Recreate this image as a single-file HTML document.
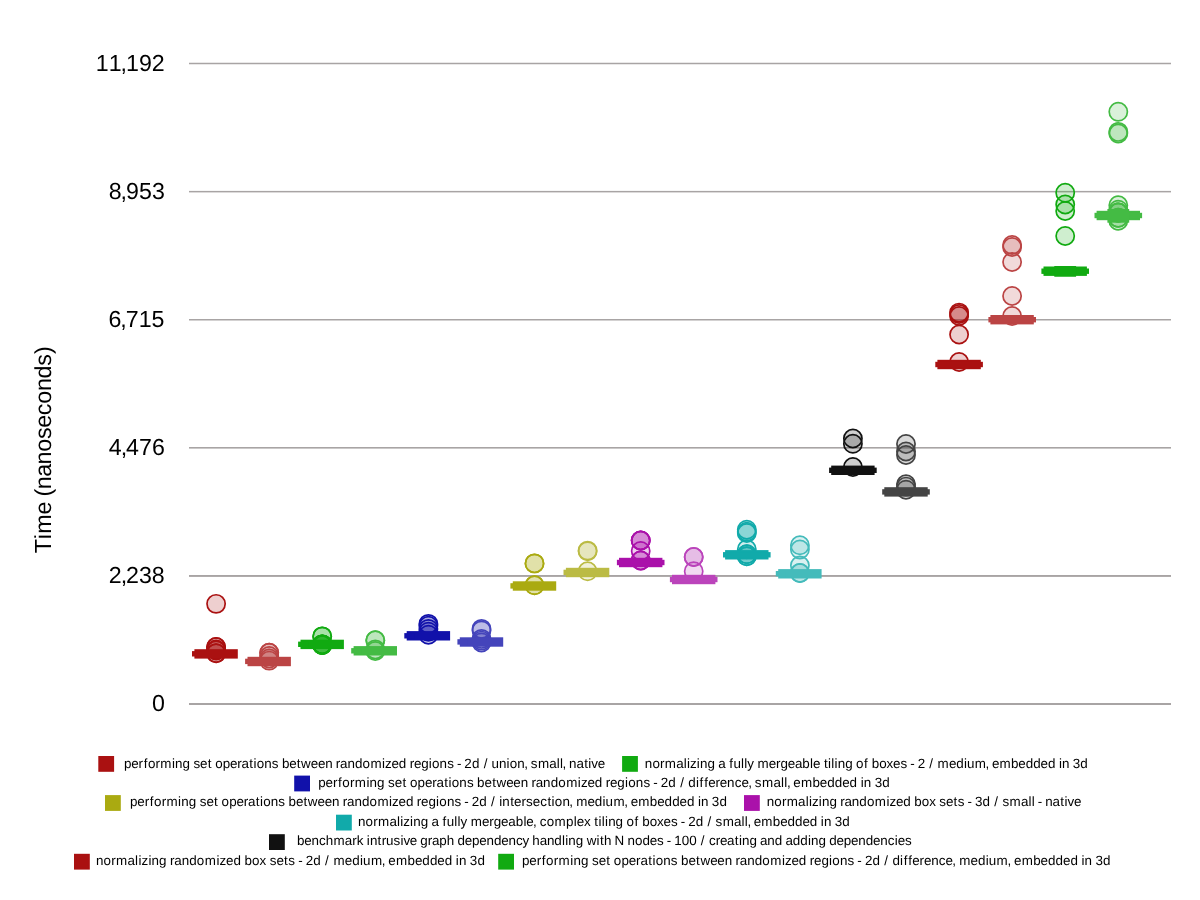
<!DOCTYPE html>
<html><head><meta charset="utf-8"><style>
html,body{margin:0;padding:0;background:#fff;width:1200px;height:900px;overflow:hidden}
svg{display:block}
text{font-family:"Liberation Sans",sans-serif;fill:#000;will-change:transform;text-rendering:geometricPrecision}
</style></head><body>
<svg width="1200" height="900" viewBox="0 0 1200 900">
<rect width="1200" height="900" fill="#fff"/>

<rect x="189" y="62.75" width="982" height="1.50" fill="#a8a4a4"/>
<rect x="189" y="190.9" width="982" height="1.50" fill="#a8a4a4"/>
<rect x="189" y="319.0" width="982" height="1.50" fill="#a8a4a4"/>
<rect x="189" y="447.0" width="982" height="1.60" fill="#a8a4a4"/>
<rect x="189" y="575.0" width="982" height="1.90" fill="#a8a4a4"/>
<rect x="189" y="703.0" width="982" height="2.00" fill="#a8a4a4"/>
<text x="95.87 108.72 120.62 126.07 138.93 151.78" y="71" font-size="23.2">11,192</text>
<text x="108.64 120.58 126.07 138.97 151.89" y="199" font-size="23.2">8,953</text>
<text x="108.41 120.34 125.82 138.71 151.61" y="327" font-size="23.2">6,715</text>
<text x="108.71 120.64 126.11 139.00 151.90" y="455" font-size="23.2">4,476</text>
<text x="108.81 120.68 126.09 138.89 151.70" y="583" font-size="23.2">2,238</text>
<text x="151.96" y="711" font-size="23.2">0</text>
<g transform="translate(0,900) rotate(-90)"><text x="346.86 360.83 366.32 385.38 397.39 403.39 410.86 423.19 435.53 448.17 461.05 472.17 484.68 496.34 508.97 521.53 534.35 546.01" y="51" font-size="23.3">Time (nanoseconds)</text></g>
<g><circle cx="216.1" cy="603.85" r="9.1" fill="#aa1111" fill-opacity="0.2" stroke="#aa1111" stroke-width="1.7"/><circle cx="216.1" cy="647" r="9.1" fill="#aa1111" fill-opacity="0.2" stroke="#aa1111" stroke-width="1.7"/><circle cx="216.1" cy="647" r="9.1" fill="#aa1111" fill-opacity="0.2" stroke="#aa1111" stroke-width="1.7"/><circle cx="216.1" cy="649.5" r="9.1" fill="#aa1111" fill-opacity="0.2" stroke="#aa1111" stroke-width="1.7"/><circle cx="216.1" cy="650.5" r="9.1" fill="#aa1111" fill-opacity="0.2" stroke="#aa1111" stroke-width="1.7"/><circle cx="216.1" cy="653.2" r="9.1" fill="#aa1111" fill-opacity="0.2" stroke="#aa1111" stroke-width="1.7"/><circle cx="216.1" cy="653.2" r="9.1" fill="#aa1111" fill-opacity="0.2" stroke="#aa1111" stroke-width="1.7"/><rect x="194.4" y="649.2" width="43.4" height="9.4" fill="#aa1111"/><rect x="192.0" y="651.1" width="10" height="5.4" fill="#aa1111"/></g>
<g><circle cx="269.2" cy="652.75" r="9.1" fill="#bb4444" fill-opacity="0.2" stroke="#bb4444" stroke-width="1.7"/><circle cx="269.2" cy="652.75" r="9.1" fill="#bb4444" fill-opacity="0.2" stroke="#bb4444" stroke-width="1.7"/><circle cx="269.2" cy="656" r="9.1" fill="#bb4444" fill-opacity="0.2" stroke="#bb4444" stroke-width="1.7"/><circle cx="269.2" cy="658.5" r="9.1" fill="#bb4444" fill-opacity="0.2" stroke="#bb4444" stroke-width="1.7"/><circle cx="269.2" cy="660.6" r="9.1" fill="#bb4444" fill-opacity="0.2" stroke="#bb4444" stroke-width="1.7"/><rect x="247.5" y="656.8" width="43.4" height="9.4" fill="#bb4444"/><rect x="245.1" y="658.7" width="10" height="5.4" fill="#bb4444"/></g>
<g><circle cx="322.2" cy="636.4" r="9.1" fill="#11aa11" fill-opacity="0.2" stroke="#11aa11" stroke-width="1.7"/><circle cx="322.2" cy="636.4" r="9.1" fill="#11aa11" fill-opacity="0.2" stroke="#11aa11" stroke-width="1.7"/><circle cx="322.2" cy="644.4" r="9.1" fill="#11aa11" fill-opacity="0.2" stroke="#11aa11" stroke-width="1.7"/><circle cx="322.2" cy="644.4" r="9.1" fill="#11aa11" fill-opacity="0.2" stroke="#11aa11" stroke-width="1.7"/><circle cx="322.2" cy="644.4" r="9.1" fill="#11aa11" fill-opacity="0.2" stroke="#11aa11" stroke-width="1.7"/><circle cx="322.2" cy="644.4" r="9.1" fill="#11aa11" fill-opacity="0.2" stroke="#11aa11" stroke-width="1.7"/><circle cx="322.2" cy="645" r="9.1" fill="#11aa11" fill-opacity="0.2" stroke="#11aa11" stroke-width="1.7"/><circle cx="322.2" cy="645" r="9.1" fill="#11aa11" fill-opacity="0.2" stroke="#11aa11" stroke-width="1.7"/><circle cx="322.2" cy="645" r="9.1" fill="#11aa11" fill-opacity="0.2" stroke="#11aa11" stroke-width="1.7"/><rect x="300.5" y="639.7" width="43.4" height="9.4" fill="#11aa11"/><rect x="298.1" y="641.6" width="10" height="5.4" fill="#11aa11"/></g>
<g><circle cx="375.3" cy="640.3" r="9.1" fill="#44bb44" fill-opacity="0.2" stroke="#44bb44" stroke-width="1.7"/><circle cx="375.3" cy="640.3" r="9.1" fill="#44bb44" fill-opacity="0.2" stroke="#44bb44" stroke-width="1.7"/><circle cx="375.3" cy="649.4" r="9.1" fill="#44bb44" fill-opacity="0.2" stroke="#44bb44" stroke-width="1.7"/><circle cx="375.3" cy="651" r="9.1" fill="#44bb44" fill-opacity="0.2" stroke="#44bb44" stroke-width="1.7"/><rect x="353.6" y="646.1" width="43.4" height="9.4" fill="#44bb44"/><rect x="351.2" y="648.1" width="10" height="5.4" fill="#44bb44"/></g>
<g><circle cx="428.4" cy="623.9" r="9.1" fill="#1111aa" fill-opacity="0.2" stroke="#1111aa" stroke-width="1.7"/><circle cx="428.4" cy="625.8" r="9.1" fill="#1111aa" fill-opacity="0.2" stroke="#1111aa" stroke-width="1.7"/><circle cx="428.4" cy="628.9" r="9.1" fill="#1111aa" fill-opacity="0.2" stroke="#1111aa" stroke-width="1.7"/><circle cx="428.4" cy="631.7" r="9.1" fill="#1111aa" fill-opacity="0.2" stroke="#1111aa" stroke-width="1.7"/><circle cx="428.4" cy="634.7" r="9.1" fill="#1111aa" fill-opacity="0.2" stroke="#1111aa" stroke-width="1.7"/><rect x="406.7" y="631.1" width="43.4" height="9.4" fill="#1111aa"/><rect x="404.3" y="633.1" width="10" height="5.4" fill="#1111aa"/></g>
<g><circle cx="481.5" cy="628.9" r="9.1" fill="#4444bb" fill-opacity="0.2" stroke="#4444bb" stroke-width="1.7"/><circle cx="481.5" cy="630.4" r="9.1" fill="#4444bb" fill-opacity="0.2" stroke="#4444bb" stroke-width="1.7"/><circle cx="481.5" cy="638.9" r="9.1" fill="#4444bb" fill-opacity="0.2" stroke="#4444bb" stroke-width="1.7"/><circle cx="481.5" cy="640.6" r="9.1" fill="#4444bb" fill-opacity="0.2" stroke="#4444bb" stroke-width="1.7"/><circle cx="481.5" cy="642.5" r="9.1" fill="#4444bb" fill-opacity="0.2" stroke="#4444bb" stroke-width="1.7"/><rect x="459.8" y="637.3" width="43.4" height="9.4" fill="#4444bb"/><rect x="457.4" y="639.2" width="10" height="5.4" fill="#4444bb"/></g>
<g><circle cx="534.5" cy="563.4" r="9.1" fill="#aaaa11" fill-opacity="0.2" stroke="#aaaa11" stroke-width="1.7"/><circle cx="534.5" cy="563.4" r="9.1" fill="#aaaa11" fill-opacity="0.2" stroke="#aaaa11" stroke-width="1.7"/><circle cx="534.5" cy="585.3" r="9.1" fill="#aaaa11" fill-opacity="0.2" stroke="#aaaa11" stroke-width="1.7"/><circle cx="534.5" cy="585.3" r="9.1" fill="#aaaa11" fill-opacity="0.2" stroke="#aaaa11" stroke-width="1.7"/><rect x="512.8" y="581.3" width="43.4" height="9.4" fill="#aaaa11"/><rect x="510.4" y="583.2" width="10" height="5.4" fill="#aaaa11"/></g>
<g><circle cx="587.6" cy="550.6" r="9.1" fill="#bbbb44" fill-opacity="0.2" stroke="#bbbb44" stroke-width="1.7"/><circle cx="587.6" cy="551.2" r="9.1" fill="#bbbb44" fill-opacity="0.2" stroke="#bbbb44" stroke-width="1.7"/><circle cx="587.6" cy="571.3" r="9.1" fill="#bbbb44" fill-opacity="0.2" stroke="#bbbb44" stroke-width="1.7"/><rect x="565.9" y="567.8" width="43.4" height="9.4" fill="#bbbb44"/><rect x="563.5" y="569.7" width="10" height="5.4" fill="#bbbb44"/></g>
<g><circle cx="640.7" cy="540.5" r="9.1" fill="#aa11aa" fill-opacity="0.2" stroke="#aa11aa" stroke-width="1.7"/><circle cx="640.7" cy="540.5" r="9.1" fill="#aa11aa" fill-opacity="0.2" stroke="#aa11aa" stroke-width="1.7"/><circle cx="640.7" cy="540.5" r="9.1" fill="#aa11aa" fill-opacity="0.2" stroke="#aa11aa" stroke-width="1.7"/><circle cx="640.7" cy="551" r="9.1" fill="#aa11aa" fill-opacity="0.2" stroke="#aa11aa" stroke-width="1.7"/><circle cx="640.7" cy="560.5" r="9.1" fill="#aa11aa" fill-opacity="0.2" stroke="#aa11aa" stroke-width="1.7"/><circle cx="640.7" cy="560.5" r="9.1" fill="#aa11aa" fill-opacity="0.2" stroke="#aa11aa" stroke-width="1.7"/><rect x="619.0" y="557.8" width="43.4" height="9.4" fill="#aa11aa"/><rect x="616.9" y="559.8" width="47.6" height="5.4" fill="#aa11aa"/></g>
<g><circle cx="693.7" cy="557" r="9.1" fill="#bb44bb" fill-opacity="0.2" stroke="#bb44bb" stroke-width="1.7"/><circle cx="693.7" cy="557" r="9.1" fill="#bb44bb" fill-opacity="0.2" stroke="#bb44bb" stroke-width="1.7"/><circle cx="693.7" cy="571.3" r="9.1" fill="#bb44bb" fill-opacity="0.2" stroke="#bb44bb" stroke-width="1.7"/><rect x="672.0" y="574.8" width="43.4" height="9.4" fill="#bb44bb"/><rect x="669.9" y="576.8" width="47.6" height="5.4" fill="#bb44bb"/></g>
<g><circle cx="746.8" cy="529.7" r="9.1" fill="#11aaaa" fill-opacity="0.2" stroke="#11aaaa" stroke-width="1.7"/><circle cx="746.8" cy="531.7" r="9.1" fill="#11aaaa" fill-opacity="0.2" stroke="#11aaaa" stroke-width="1.7"/><circle cx="746.8" cy="533" r="9.1" fill="#11aaaa" fill-opacity="0.2" stroke="#11aaaa" stroke-width="1.7"/><circle cx="746.8" cy="549.3" r="9.1" fill="#11aaaa" fill-opacity="0.2" stroke="#11aaaa" stroke-width="1.7"/><circle cx="746.8" cy="554.3" r="9.1" fill="#11aaaa" fill-opacity="0.2" stroke="#11aaaa" stroke-width="1.7"/><circle cx="746.8" cy="554.3" r="9.1" fill="#11aaaa" fill-opacity="0.2" stroke="#11aaaa" stroke-width="1.7"/><circle cx="746.8" cy="556.3" r="9.1" fill="#11aaaa" fill-opacity="0.2" stroke="#11aaaa" stroke-width="1.7"/><circle cx="746.8" cy="556.3" r="9.1" fill="#11aaaa" fill-opacity="0.2" stroke="#11aaaa" stroke-width="1.7"/><rect x="725.1" y="550.1" width="43.4" height="9.4" fill="#11aaaa"/><rect x="723.0" y="552.1" width="47.6" height="5.4" fill="#11aaaa"/></g>
<g><circle cx="799.9" cy="545.3" r="9.1" fill="#44bbbb" fill-opacity="0.2" stroke="#44bbbb" stroke-width="1.7"/><circle cx="799.9" cy="549.5" r="9.1" fill="#44bbbb" fill-opacity="0.2" stroke="#44bbbb" stroke-width="1.7"/><circle cx="799.9" cy="565.5" r="9.1" fill="#44bbbb" fill-opacity="0.2" stroke="#44bbbb" stroke-width="1.7"/><circle cx="799.9" cy="573" r="9.1" fill="#44bbbb" fill-opacity="0.2" stroke="#44bbbb" stroke-width="1.7"/><circle cx="799.9" cy="573" r="9.1" fill="#44bbbb" fill-opacity="0.2" stroke="#44bbbb" stroke-width="1.7"/><rect x="778.2" y="569.1" width="43.4" height="9.4" fill="#44bbbb"/><rect x="775.8" y="571.0" width="10" height="5.4" fill="#44bbbb"/></g>
<g><circle cx="852.9" cy="438.5" r="9.1" fill="#111111" fill-opacity="0.2" stroke="#111111" stroke-width="1.7"/><circle cx="852.9" cy="443.8" r="9.1" fill="#111111" fill-opacity="0.2" stroke="#111111" stroke-width="1.7"/><circle cx="852.9" cy="467" r="9.1" fill="#111111" fill-opacity="0.2" stroke="#111111" stroke-width="1.7"/><rect x="831.2" y="465.6" width="43.4" height="9.4" fill="#111111"/><rect x="829.1" y="467.6" width="47.6" height="5.4" fill="#111111"/></g>
<g><circle cx="906.0" cy="444" r="9.1" fill="#444444" fill-opacity="0.2" stroke="#444444" stroke-width="1.7"/><circle cx="906.0" cy="451.5" r="9.1" fill="#444444" fill-opacity="0.2" stroke="#444444" stroke-width="1.7"/><circle cx="906.0" cy="455" r="9.1" fill="#444444" fill-opacity="0.2" stroke="#444444" stroke-width="1.7"/><circle cx="906.0" cy="484.3" r="9.1" fill="#444444" fill-opacity="0.2" stroke="#444444" stroke-width="1.7"/><circle cx="906.0" cy="486.6" r="9.1" fill="#444444" fill-opacity="0.2" stroke="#444444" stroke-width="1.7"/><circle cx="906.0" cy="489.7" r="9.1" fill="#444444" fill-opacity="0.2" stroke="#444444" stroke-width="1.7"/><rect x="884.3" y="487.2" width="43.4" height="9.4" fill="#444444"/><rect x="882.2" y="489.2" width="47.6" height="5.4" fill="#444444"/></g>
<g><circle cx="959.1" cy="312.6" r="9.1" fill="#aa1111" fill-opacity="0.2" stroke="#aa1111" stroke-width="1.7"/><circle cx="959.1" cy="314" r="9.1" fill="#aa1111" fill-opacity="0.2" stroke="#aa1111" stroke-width="1.7"/><circle cx="959.1" cy="316" r="9.1" fill="#aa1111" fill-opacity="0.2" stroke="#aa1111" stroke-width="1.7"/><circle cx="959.1" cy="334.5" r="9.1" fill="#aa1111" fill-opacity="0.2" stroke="#aa1111" stroke-width="1.7"/><circle cx="959.1" cy="362" r="9.1" fill="#aa1111" fill-opacity="0.2" stroke="#aa1111" stroke-width="1.7"/><rect x="937.4" y="359.8" width="43.4" height="9.4" fill="#aa1111"/><rect x="935.3" y="361.8" width="47.6" height="5.4" fill="#aa1111"/></g>
<g><circle cx="1012.1" cy="245" r="9.1" fill="#bb4444" fill-opacity="0.2" stroke="#bb4444" stroke-width="1.7"/><circle cx="1012.1" cy="247" r="9.1" fill="#bb4444" fill-opacity="0.2" stroke="#bb4444" stroke-width="1.7"/><circle cx="1012.1" cy="262" r="9.1" fill="#bb4444" fill-opacity="0.2" stroke="#bb4444" stroke-width="1.7"/><circle cx="1012.1" cy="296" r="9.1" fill="#bb4444" fill-opacity="0.2" stroke="#bb4444" stroke-width="1.7"/><circle cx="1012.1" cy="316" r="9.1" fill="#bb4444" fill-opacity="0.2" stroke="#bb4444" stroke-width="1.7"/><rect x="990.4" y="315.0" width="43.4" height="9.4" fill="#bb4444"/><rect x="988.4" y="317.0" width="47.6" height="5.4" fill="#bb4444"/></g>
<g><circle cx="1065.2" cy="192.8" r="9.1" fill="#11aa11" fill-opacity="0.2" stroke="#11aa11" stroke-width="1.7"/><circle cx="1065.2" cy="204.5" r="9.1" fill="#11aa11" fill-opacity="0.2" stroke="#11aa11" stroke-width="1.7"/><circle cx="1065.2" cy="211" r="9.1" fill="#11aa11" fill-opacity="0.2" stroke="#11aa11" stroke-width="1.7"/><circle cx="1065.2" cy="236" r="9.1" fill="#11aa11" fill-opacity="0.2" stroke="#11aa11" stroke-width="1.7"/><rect x="1043.5" y="266.5" width="43.4" height="9.4" fill="#11aa11"/><rect x="1041.4" y="268.5" width="47.6" height="5.4" fill="#11aa11"/><rect x="1054.3" y="266" width="21.8" height="10.75" fill="#11aa11"/></g>
<g><circle cx="1118.3" cy="111.8" r="9.1" fill="#44bb44" fill-opacity="0.2" stroke="#44bb44" stroke-width="1.7"/><circle cx="1118.3" cy="131.9" r="9.1" fill="#44bb44" fill-opacity="0.2" stroke="#44bb44" stroke-width="1.7"/><circle cx="1118.3" cy="133.5" r="9.1" fill="#44bb44" fill-opacity="0.2" stroke="#44bb44" stroke-width="1.7"/><circle cx="1118.3" cy="205.3" r="9.1" fill="#44bb44" fill-opacity="0.2" stroke="#44bb44" stroke-width="1.7"/><circle cx="1118.3" cy="209.7" r="9.1" fill="#44bb44" fill-opacity="0.2" stroke="#44bb44" stroke-width="1.7"/><circle cx="1118.3" cy="212.5" r="9.1" fill="#44bb44" fill-opacity="0.2" stroke="#44bb44" stroke-width="1.7"/><circle cx="1118.3" cy="212.5" r="9.1" fill="#44bb44" fill-opacity="0.2" stroke="#44bb44" stroke-width="1.7"/><circle cx="1118.3" cy="212.5" r="9.1" fill="#44bb44" fill-opacity="0.2" stroke="#44bb44" stroke-width="1.7"/><circle cx="1118.3" cy="217.8" r="9.1" fill="#44bb44" fill-opacity="0.2" stroke="#44bb44" stroke-width="1.7"/><circle cx="1118.3" cy="217.8" r="9.1" fill="#44bb44" fill-opacity="0.2" stroke="#44bb44" stroke-width="1.7"/><circle cx="1118.3" cy="220.7" r="9.1" fill="#44bb44" fill-opacity="0.2" stroke="#44bb44" stroke-width="1.7"/><rect x="1096.6" y="210.8" width="43.4" height="9.4" fill="#44bb44"/><rect x="1094.5" y="212.8" width="47.6" height="5.4" fill="#44bb44"/><rect x="1107.4" y="209" width="21.8" height="13.70" fill="#44bb44"/></g>
<rect x="98.3" y="756" width="15.8" height="15.8" fill="#aa1111"/>
<text x="123.92 131.24 138.61 143.64 147.93 155.51 160.31 171.92 175.02 182.49 189.77 193.41 200.05 207.66 211.51 215.14 222.73 230.05 237.24 241.54 249.24 253.43 256.65 264.18 271.72 278.32 281.88 289.21 296.82 301.08 310.78 317.89 325.15 332.38 335.82 340.11 347.46 354.95 362.55 370.39 382.00 385.04 391.49 398.82 406.13 409.64 413.91 421.24 428.87 432.07 439.60 447.14 453.75 456.90 460.79 464.35 471.90 479.21 483.64 488.07 491.56 498.95 506.53 509.75 517.27 524.15 527.14 530.78 537.88 549.26 556.78 560.05 562.62 565.60 569.10 576.45 584.16 588.36 591.33 597.71" y="767.9" font-size="13.4">performing set operations between randomized regions - 2d / union, small, native</text>
<rect x="622.1" y="756" width="15.8" height="15.8" fill="#11aa11"/>
<text x="644.86 652.38 659.97 664.77 676.15 683.67 686.94 690.03 696.85 699.95 707.42 714.71 718.15 725.33 729.32 733.48 741.05 744.31 747.25 753.58 757.40 768.69 775.95 780.43 787.75 794.95 802.36 810.00 812.95 820.03 823.89 828.09 831.35 834.61 837.70 845.17 852.47 856.09 864.11 868.10 871.66 879.19 886.58 893.02 900.41 907.02 910.17 914.06 917.63 924.92 929.35 933.78 937.61 948.90 956.23 963.88 966.98 974.70 985.62 988.59 991.95 999.54 1011.04 1018.35 1025.69 1033.25 1040.59 1047.92 1055.23 1058.90 1062.00 1069.23 1072.80 1080.35" y="767.9" font-size="13.4">normalizing a fully mergeable tiling of boxes - 2 / medium, embedded in 3d</text>
<rect x="294.2" y="775.6" width="15.8" height="15.8" fill="#1111aa"/>
<text x="318.14 325.50 332.92 337.97 342.30 349.92 354.78 366.43 369.57 377.08 384.40 388.07 394.76 402.41 406.29 409.94 417.58 424.95 432.18 436.51 444.26 448.47 451.73 459.30 466.89 473.53 477.12 484.49 492.15 496.45 506.21 513.36 520.67 527.93 531.39 535.73 543.12 550.66 558.31 566.21 577.87 580.94 587.43 594.81 602.16 605.69 610.00 617.37 625.04 628.28 635.85 643.44 650.09 653.26 657.17 660.77 668.37 675.71 680.17 684.63 688.24 695.92 699.54 704.15 708.13 715.43 719.74 727.05 734.68 741.40 748.17 751.18 754.85 762.01 773.46 781.01 784.29 786.89 789.89 793.27 800.92 812.48 819.84 827.23 834.84 842.22 849.61 856.95 860.64 863.77 871.03 874.63 882.24" y="786.9" font-size="13.4">performing set operations between randomized regions - 2d / difference, small, embedded in 3d</text>
<rect x="105" y="795.1" width="15.8" height="15.8" fill="#aaaa11"/>
<text x="129.93 137.28 144.68 149.72 154.04 161.65 166.48 178.12 181.24 188.74 196.05 199.70 206.38 214.01 217.88 221.52 229.14 236.49 243.71 248.03 255.76 259.97 263.21 270.77 278.33 284.96 288.54 295.89 303.54 307.82 317.56 324.69 331.98 339.24 342.69 347.01 354.39 361.90 369.53 377.42 389.06 392.12 398.59 405.96 413.29 416.81 421.11 428.46 436.12 439.35 446.90 454.47 461.11 464.27 468.17 471.76 479.34 486.67 491.12 495.56 499.24 502.36 510.15 514.05 521.40 526.03 532.70 540.17 547.38 551.60 554.84 562.39 569.30 572.30 576.15 587.48 594.84 602.51 605.62 613.39 624.34 627.33 630.70 638.33 649.87 657.21 664.58 672.17 679.53 686.90 694.23 697.91 701.02 708.28 711.87 719.44" y="806.4" font-size="13.4">performing set operations between randomized regions - 2d / intersection, medium, embedded in 3d</text>
<rect x="744" y="795.1" width="15.8" height="15.8" fill="#aa11aa"/>
<text x="766.77 774.30 781.90 786.72 798.12 805.65 808.91 812.01 818.85 821.96 829.44 836.74 840.18 844.49 851.85 859.35 866.96 874.82 886.45 889.50 895.96 903.31 910.64 914.21 921.74 929.21 935.70 939.35 946.00 953.62 957.79 964.42 967.57 971.46 975.04 982.61 989.92 994.36 998.80 1002.45 1009.57 1020.97 1028.50 1031.77 1034.69 1037.84 1041.73 1045.25 1052.61 1060.33 1064.53 1067.51 1073.91" y="806.4" font-size="13.4">normalizing randomized box sets - 3d / small - native</text>
<rect x="336" y="814.7" width="15.8" height="15.8" fill="#11aaaa"/>
<text x="358.06 365.59 373.19 378.00 389.39 396.92 400.18 403.28 410.11 413.21 420.69 427.98 431.43 438.62 442.61 446.79 454.36 457.62 460.56 466.90 470.74 482.03 489.30 493.78 501.11 508.32 515.74 523.38 526.34 533.08 536.07 539.76 546.72 554.59 566.10 573.73 576.69 583.95 590.44 594.30 598.50 601.76 605.03 608.13 615.60 622.91 626.54 634.56 638.57 642.14 649.66 657.06 663.51 670.91 677.53 680.68 684.57 688.15 695.70 703.02 707.46 711.89 715.52 722.64 734.03 741.56 744.83 747.40 750.40 753.76 761.34 772.86 780.18 787.52 795.10 802.45 809.80 817.11 820.78 823.88 831.12 834.70 842.25" y="825.8" font-size="13.4">normalizing a fully mergeable, complex tiling of boxes - 2d / small, embedded in 3d</text>
<rect x="269" y="834.2" width="15.8" height="15.8" fill="#111111"/>
<text x="297.00 304.27 311.48 319.02 325.79 333.45 344.77 352.14 356.66 363.17 366.82 369.88 377.60 381.66 386.09 393.58 400.50 403.44 409.77 416.82 420.34 427.71 431.97 439.33 446.73 453.91 457.46 464.74 472.01 479.29 486.50 493.93 501.22 508.42 515.96 522.60 528.89 532.35 539.64 546.94 554.37 561.98 565.22 568.28 575.70 582.95 586.63 596.60 600.03 604.02 611.20 614.62 624.00 627.46 634.94 642.50 649.78 657.12 663.70 666.83 670.69 674.22 681.70 689.19 696.45 700.84 705.25 708.90 715.69 719.93 727.08 734.75 738.92 741.97 749.39 756.65 760.06 767.36 774.79 782.06 785.46 792.84 800.36 807.98 811.03 818.45 825.71 829.25 836.54 843.81 851.07 858.28 865.71 873.00 880.22 887.75 894.72 897.63 904.97" y="845.4" font-size="13.4">benchmark intrusive graph dependency handling with N nodes - 100 / creating and adding dependencies</text>
<rect x="74" y="853.8" width="15.8" height="15.8" fill="#aa1111"/>
<text x="95.98 103.57 111.21 116.08 127.55 135.11 138.40 141.54 148.40 151.55 159.08 166.42 169.88 174.23 181.64 189.19 196.86 204.79 216.46 219.55 226.05 233.46 240.82 244.42 252.01 259.53 266.05 269.74 276.43 284.09 288.30 294.96 298.14 302.06 305.67 313.29 320.64 325.11 329.58 333.47 344.84 352.24 359.94 363.07 370.88 381.86 384.86 388.26 395.93 407.51 414.90 422.29 429.92 437.33 444.73 452.08 455.78 458.92 466.20 469.81 477.43" y="864.9" font-size="13.4">normalizing randomized box sets - 2d / medium, embedded in 3d</text>
<rect x="498.2" y="853.8" width="15.8" height="15.8" fill="#11aa11"/>
<text x="521.94 529.31 536.73 541.79 546.12 553.76 558.62 570.28 573.42 580.94 588.27 591.94 598.64 606.29 610.17 613.83 621.48 628.85 636.09 640.43 648.17 652.40 655.65 663.24 670.83 677.47 681.07 688.45 696.11 700.42 710.18 717.34 724.66 731.93 735.39 739.73 747.14 754.67 762.33 770.25 781.91 784.99 791.49 798.87 806.22 809.76 814.08 821.45 829.12 832.37 839.95 847.55 854.20 857.37 861.29 864.89 872.49 879.85 884.31 888.77 892.38 900.08 903.69 908.31 912.30 919.60 923.91 931.23 938.87 945.60 952.37 955.38 959.26 970.62 978.01 985.70 988.83 996.62 1007.59 1010.59 1013.99 1021.64 1033.21 1040.58 1047.97 1055.59 1062.98 1070.38 1077.72 1081.41 1084.55 1091.82 1095.42 1103.03" y="864.9" font-size="13.4">performing set operations between randomized regions - 2d / difference, medium, embedded in 3d</text>
</svg>
</body></html>
